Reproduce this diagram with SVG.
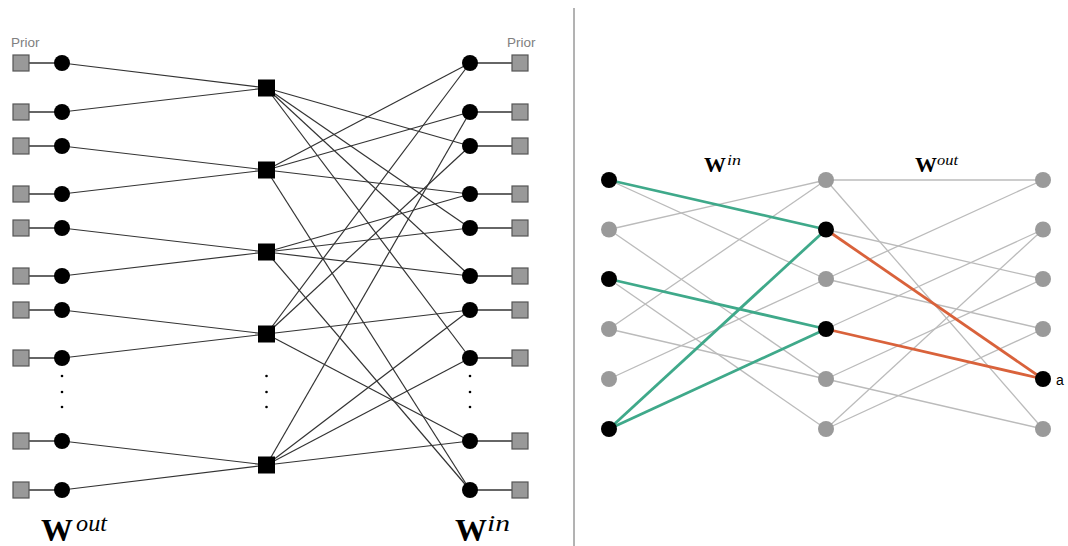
<svg xmlns="http://www.w3.org/2000/svg" width="1068" height="546" viewBox="0 0 1068 546">
<style>
.e{stroke:#333;stroke-width:1.2;fill:none}
.p{stroke:#333;stroke-width:1.6}
.pr{fill:#999;stroke:#555;stroke-width:1.2}
.v{fill:#000}
.f{fill:#000}
.g{stroke:#bbb;stroke-width:1.3}
.gr{stroke:#3fa98a;stroke-width:2.8}
.or{stroke:#d9623b;stroke-width:2.8}
.gn{fill:#9a9a9a}
.bn{fill:#000}
.lbl{font-family:"Liberation Sans",Arial,sans-serif;font-size:13.5px;fill:#808080}
.W{font-family:"Liberation Serif","DejaVu Serif",serif;font-weight:bold}
.sup{font-family:"Liberation Serif","DejaVu Serif",serif;font-style:italic}
.dot{fill:#000}
</style>
<rect width="1068" height="546" fill="#fff"/>
<line x1="574" y1="8" x2="574" y2="546" stroke="#666" stroke-width="1"/>

<g id="connectors">
  <g class="p">
    <line x1="21" y1="63" x2="62" y2="63"/><line x1="21" y1="112" x2="62" y2="112"/>
    <line x1="21" y1="146" x2="62" y2="146"/><line x1="21" y1="194" x2="62" y2="194"/>
    <line x1="21" y1="228" x2="62" y2="228"/><line x1="21" y1="276" x2="62" y2="276"/>
    <line x1="21" y1="310" x2="62" y2="310"/><line x1="21" y1="358" x2="62" y2="358"/>
    <line x1="21" y1="441" x2="62" y2="441"/><line x1="21" y1="490" x2="62" y2="490"/>
    <line x1="470" y1="63" x2="520" y2="63"/><line x1="470" y1="112" x2="520" y2="112"/>
    <line x1="470" y1="146" x2="520" y2="146"/><line x1="470" y1="194" x2="520" y2="194"/>
    <line x1="470" y1="228" x2="520" y2="228"/><line x1="470" y1="276" x2="520" y2="276"/>
    <line x1="470" y1="310" x2="520" y2="310"/><line x1="470" y1="358" x2="520" y2="358"/>
    <line x1="470" y1="441" x2="520" y2="441"/><line x1="470" y1="490" x2="520" y2="490"/>
  </g>
  <g class="e">
    <line x1="62" y1="63" x2="266.5" y2="88"/><line x1="62" y1="112" x2="266.5" y2="88"/>
    <line x1="62" y1="146" x2="266.5" y2="170"/><line x1="62" y1="194" x2="266.5" y2="170"/>
    <line x1="62" y1="228" x2="266.5" y2="252"/><line x1="62" y1="276" x2="266.5" y2="252"/>
    <line x1="62" y1="310" x2="266.5" y2="334"/><line x1="62" y1="358" x2="266.5" y2="334"/>
    <line x1="62" y1="441" x2="266.5" y2="465"/><line x1="62" y1="490" x2="266.5" y2="465"/>
    <line x1="266.5" y1="88" x2="470" y2="146"/><line x1="266.5" y1="88" x2="470" y2="228"/>
    <line x1="266.5" y1="88" x2="470" y2="276"/><line x1="266.5" y1="88" x2="470" y2="358"/>
    <line x1="266.5" y1="170" x2="470" y2="63"/><line x1="266.5" y1="170" x2="470" y2="112"/>
    <line x1="266.5" y1="170" x2="470" y2="194"/><line x1="266.5" y1="170" x2="470" y2="490"/>
    <line x1="266.5" y1="252" x2="470" y2="194"/><line x1="266.5" y1="252" x2="470" y2="228"/>
    <line x1="266.5" y1="252" x2="470" y2="276"/><line x1="266.5" y1="252" x2="470" y2="490"/>
    <line x1="266.5" y1="334" x2="470" y2="63"/><line x1="266.5" y1="334" x2="470" y2="146"/>
    <line x1="266.5" y1="334" x2="470" y2="310"/><line x1="266.5" y1="334" x2="470" y2="441"/>
    <line x1="266.5" y1="465" x2="470" y2="112"/><line x1="266.5" y1="465" x2="470" y2="310"/>
    <line x1="266.5" y1="465" x2="470" y2="358"/><line x1="266.5" y1="465" x2="470" y2="441"/>
  </g>
  <g class="g">
    <line x1="609" y1="180" x2="826" y2="279"/>
    <line x1="609" y1="229.5" x2="826" y2="180"/><line x1="609" y1="229.5" x2="826" y2="379"/>
    <line x1="609" y1="279" x2="826" y2="429"/>
    <line x1="609" y1="329" x2="826" y2="180"/><line x1="609" y1="329" x2="826" y2="379"/>
    <line x1="609" y1="379" x2="826" y2="279"/>
    <line x1="826" y1="180" x2="1043" y2="180"/><line x1="826" y1="180" x2="1043" y2="429"/>
    <line x1="826" y1="229.5" x2="1043" y2="279"/>
    <line x1="826" y1="279" x2="1043" y2="180"/><line x1="826" y1="279" x2="1043" y2="329"/>
    <line x1="826" y1="329" x2="1043" y2="229.5"/>
    <line x1="826" y1="379" x2="1043" y2="279"/><line x1="826" y1="379" x2="1043" y2="429"/>
    <line x1="826" y1="429" x2="1043" y2="229.5"/><line x1="826" y1="429" x2="1043" y2="329"/>
  </g>
  <g class="gr">
    <line x1="609" y1="180" x2="826" y2="229.5"/>
    <line x1="609" y1="279" x2="826" y2="329"/>
    <line x1="609" y1="429" x2="826" y2="229.5"/>
    <line x1="609" y1="429" x2="826" y2="329"/>
  </g>
  <g class="or">
    <line x1="826" y1="229.5" x2="1043" y2="379"/>
    <line x1="826" y1="329" x2="1043" y2="379"/>
  </g>
</g>

<g id="priors-left" class="pr">
  <rect x="13" y="55" width="16" height="16"/><rect x="13" y="104" width="16" height="16"/>
  <rect x="13" y="138" width="16" height="16"/><rect x="13" y="186" width="16" height="16"/>
  <rect x="13" y="220" width="16" height="16"/><rect x="13" y="268" width="16" height="16"/>
  <rect x="13" y="302" width="16" height="16"/><rect x="13" y="350" width="16" height="16"/>
  <rect x="13" y="433" width="16" height="16"/><rect x="13" y="482" width="16" height="16"/>
</g>
<g id="vars-left" class="v">
  <circle cx="62" cy="63" r="8"/><circle cx="62" cy="112" r="8"/>
  <circle cx="62" cy="146" r="8"/><circle cx="62" cy="194" r="8"/>
  <circle cx="62" cy="228" r="8"/><circle cx="62" cy="276" r="8"/>
  <circle cx="62" cy="310" r="8"/><circle cx="62" cy="358" r="8"/>
  <circle cx="62" cy="441" r="8"/><circle cx="62" cy="490" r="8"/>
</g>
<g id="factors" class="f">
  <rect x="258" y="79.5" width="17" height="17"/>
  <rect x="258" y="161.5" width="17" height="17"/>
  <rect x="258" y="243.5" width="17" height="17"/>
  <rect x="258" y="325.5" width="17" height="17"/>
  <rect x="258" y="456.5" width="17" height="17"/>
</g>
<g id="vars-right" class="v">
  <circle cx="470" cy="63" r="8"/><circle cx="470" cy="112" r="8"/>
  <circle cx="470" cy="146" r="8"/><circle cx="470" cy="194" r="8"/>
  <circle cx="470" cy="228" r="8"/><circle cx="470" cy="276" r="8"/>
  <circle cx="470" cy="310" r="8"/><circle cx="470" cy="358" r="8"/>
  <circle cx="470" cy="441" r="8"/><circle cx="470" cy="490" r="8"/>
</g>
<g id="priors-right" class="pr">
  <rect x="512" y="55" width="16" height="16"/><rect x="512" y="104" width="16" height="16"/>
  <rect x="512" y="138" width="16" height="16"/><rect x="512" y="186" width="16" height="16"/>
  <rect x="512" y="220" width="16" height="16"/><rect x="512" y="268" width="16" height="16"/>
  <rect x="512" y="302" width="16" height="16"/><rect x="512" y="350" width="16" height="16"/>
  <rect x="512" y="433" width="16" height="16"/><rect x="512" y="482" width="16" height="16"/>
</g>
<g id="ellipses" class="dot">
  <circle cx="62" cy="376" r="1.3"/><circle cx="62" cy="392" r="1.3"/><circle cx="62" cy="407" r="1.3"/>
  <circle cx="266.5" cy="376" r="1.3"/><circle cx="266.5" cy="392" r="1.3"/><circle cx="266.5" cy="407" r="1.3"/>
  <circle cx="470" cy="376" r="1.3"/><circle cx="470" cy="392" r="1.3"/><circle cx="470" cy="407" r="1.3"/>
</g>
<g id="labels-left">
  <text class="lbl" x="11" y="47">Prior</text>
  <text class="lbl" x="507" y="47">Prior</text>
  <text x="41" y="541" class="W" font-size="32">W</text>
  <text x="76" y="531" class="sup" font-size="23" textLength="31" lengthAdjust="spacingAndGlyphs">out</text>
  <text x="455" y="541" class="W" font-size="32">W</text>
  <text x="487" y="531" class="sup" font-size="23" textLength="23" lengthAdjust="spacingAndGlyphs">in</text>
</g>

<g id="layer-in">
  <circle cx="609" cy="180" r="8" class="bn"/>
  <circle cx="609" cy="229.5" r="8" class="gn"/>
  <circle cx="609" cy="279" r="8" class="bn"/>
  <circle cx="609" cy="329" r="8" class="gn"/>
  <circle cx="609" cy="379" r="8" class="gn"/>
  <circle cx="609" cy="429" r="8" class="bn"/>
</g>
<g id="layer-mid">
  <circle cx="826" cy="180" r="8" class="gn"/>
  <circle cx="826" cy="229.5" r="8" class="bn"/>
  <circle cx="826" cy="279" r="8" class="gn"/>
  <circle cx="826" cy="329" r="8" class="bn"/>
  <circle cx="826" cy="379" r="8" class="gn"/>
  <circle cx="826" cy="429" r="8" class="gn"/>
</g>
<g id="layer-out">
  <circle cx="1043" cy="180" r="8" class="gn"/>
  <circle cx="1043" cy="229.5" r="8" class="gn"/>
  <circle cx="1043" cy="279" r="8" class="gn"/>
  <circle cx="1043" cy="329" r="8" class="gn"/>
  <circle cx="1043" cy="379" r="8" class="bn"/>
  <circle cx="1043" cy="429" r="8" class="gn"/>
  <text x="1056" y="385" font-family="Liberation Sans, Arial, sans-serif" font-size="14" fill="#000">a</text>
</g>
<g id="labels-right">
  <text x="704" y="172" class="W" font-size="22">W</text>
  <text x="727" y="165" class="sup" font-size="15" textLength="14" lengthAdjust="spacingAndGlyphs">in</text>
  <text x="915" y="172" class="W" font-size="22">W</text>
  <text x="937" y="165" class="sup" font-size="15" textLength="21" lengthAdjust="spacingAndGlyphs">out</text>
</g>
</svg>
